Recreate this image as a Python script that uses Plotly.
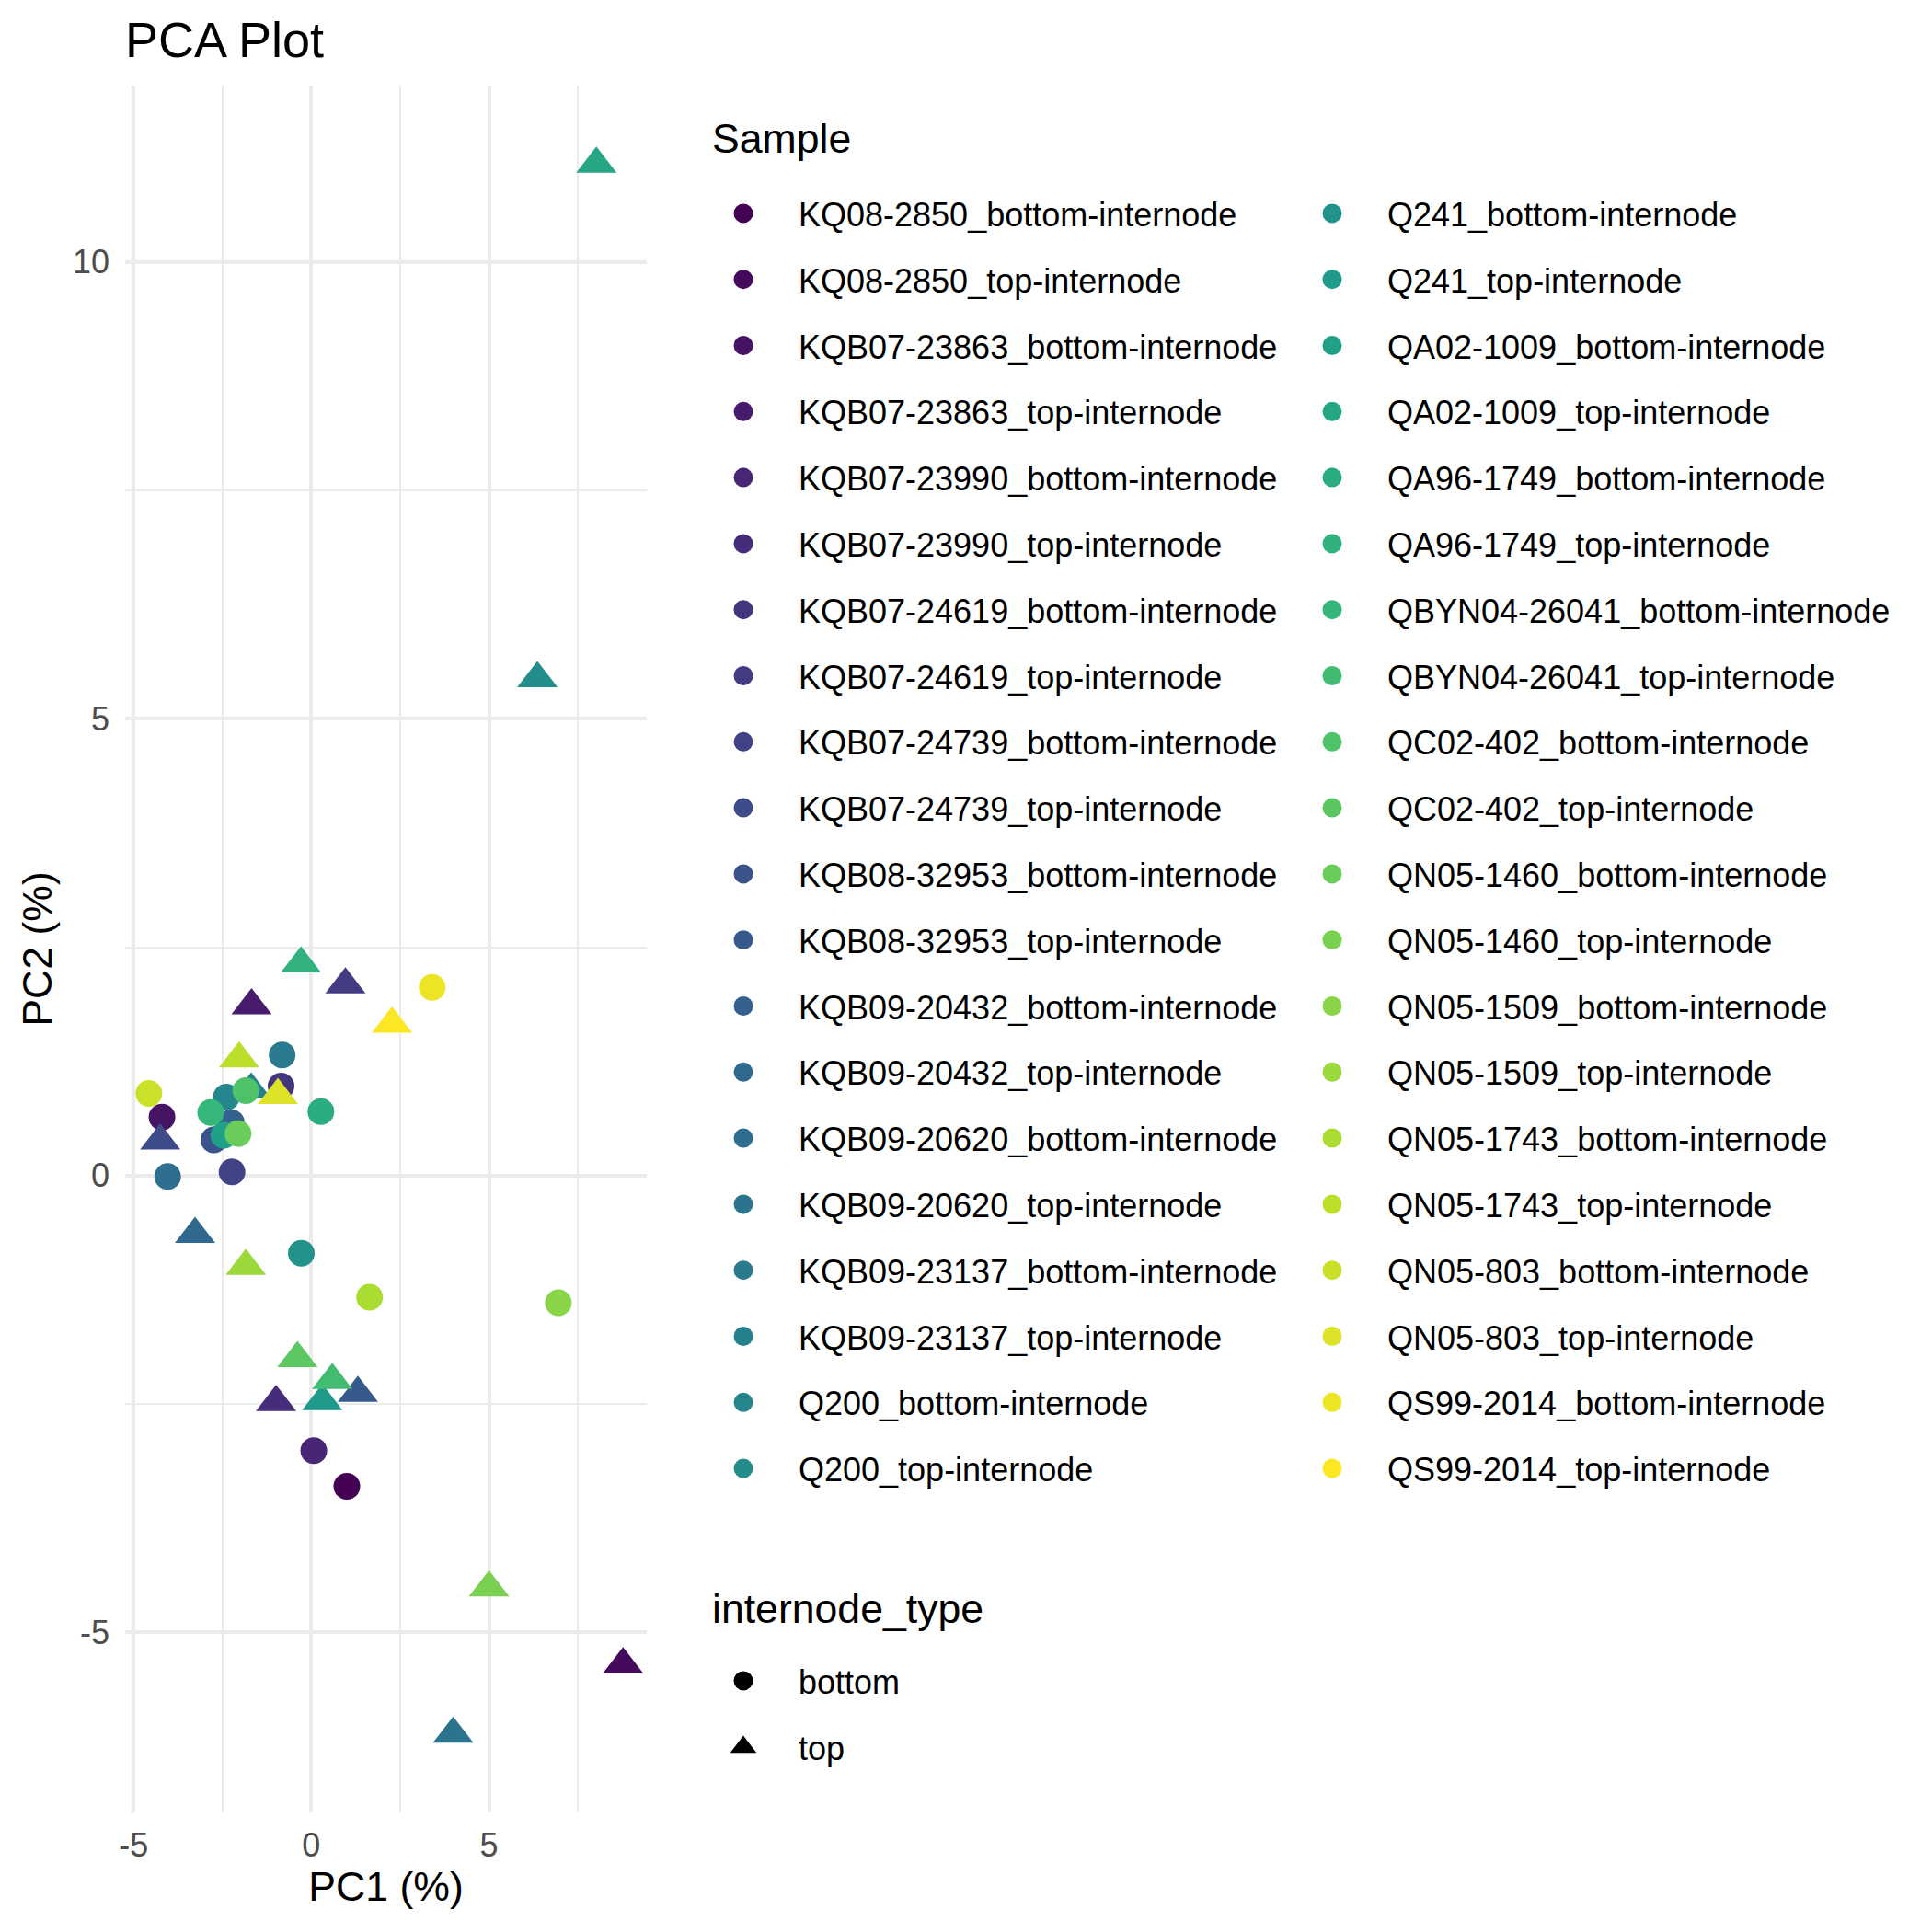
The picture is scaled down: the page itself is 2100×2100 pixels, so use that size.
import plotly.graph_objects as go
from plotly.colors import sample_colorscale

samples = [
    "KQ08-2850_bottom-internode", "KQ08-2850_top-internode",
    "KQB07-23863_bottom-internode", "KQB07-23863_top-internode",
    "KQB07-23990_bottom-internode", "KQB07-23990_top-internode",
    "KQB07-24619_bottom-internode", "KQB07-24619_top-internode",
    "KQB07-24739_bottom-internode", "KQB07-24739_top-internode",
    "KQB08-32953_bottom-internode", "KQB08-32953_top-internode",
    "KQB09-20432_bottom-internode", "KQB09-20432_top-internode",
    "KQB09-20620_bottom-internode", "KQB09-20620_top-internode",
    "KQB09-23137_bottom-internode", "KQB09-23137_top-internode",
    "Q200_bottom-internode", "Q200_top-internode",
    "Q241_bottom-internode", "Q241_top-internode",
    "QA02-1009_bottom-internode", "QA02-1009_top-internode",
    "QA96-1749_bottom-internode", "QA96-1749_top-internode",
    "QBYN04-26041_bottom-internode", "QBYN04-26041_top-internode",
    "QC02-402_bottom-internode", "QC02-402_top-internode",
    "QN05-1460_bottom-internode", "QN05-1460_top-internode",
    "QN05-1509_bottom-internode", "QN05-1509_top-internode",
    "QN05-1743_bottom-internode", "QN05-1743_top-internode",
    "QN05-803_bottom-internode", "QN05-803_top-internode",
    "QS99-2014_bottom-internode", "QS99-2014_top-internode",
]
internode_type = ["bottom", "top"] * 20

pc1 = [1.00, 8.77, -4.20, -1.68, 0.07, -0.99, -0.85, 0.96, -2.23, -4.25,
       -2.74, 1.31, -2.25, -3.27, -4.04, 3.99, -0.82, -1.69, -2.39, 6.36,
       -0.28, 0.31, -2.46, 8.02, 0.27, -0.29, -2.83, 0.59, -1.84, -0.39,
       -2.06, 5.00, 6.95, -1.84, 1.64, -2.03, -4.57, -0.94, 3.40, 2.27]
pc2 = [-3.40, -5.35, 0.64, 1.86, -3.01, -2.48, 0.98, 2.09, 0.04, 0.38,
       0.39, -2.38, 0.58, -0.64, -0.01, -6.11, 1.32, 0.94, 0.86, 5.44,
       -0.85, -2.47, 0.44, 11.07, 0.70, 2.32, 0.69, -2.24, 0.93, -2.00,
       0.46, -4.51, -1.39, -0.99, -1.33, 1.28, 0.90, 0.88, 2.06, 1.66]

x_tickvals = [-5, 0, 5]
x_ticktext = ["-5", "0", "5"]
x_minorvals = [-2.5, 2.5, 7.5]
y_tickvals = [-5, 0, 5, 10]
y_ticktext = ["-5", "0", "5", "10"]
y_minorvals = [-2.5, 2.5, 7.5]

type_levels = ["bottom", "top"]
type_symbols = {"bottom": "circle", "top": "triangle-up"}
type_sizes = {"bottom": 29, "top": 38}

n = len(samples)
colors = sample_colorscale("Viridis", [i / (n - 1) for i in range(n)])

FONT = "Liberation Sans, Arial, sans-serif"

fig = go.Figure()

# data points, drawn in sample order
for i in range(n):
    t = internode_type[i]
    fig.add_trace(go.Scatter(
        x=[pc1[i]], y=[pc2[i]], mode="markers", name=samples[i],
        marker=dict(symbol=type_symbols[t], size=type_sizes[t], color=colors[i],
                    line=dict(width=0)),
        showlegend=False,
    ))

# legend entries for Sample (two columns)
for i in range(n):
    fig.add_trace(go.Scatter(
        x=[None], y=[None], mode="markers", name=samples[i],
        marker=dict(symbol="circle", size=29, color=colors[i],
                    line=dict(width=5, color=colors[i])),
        legend="legend" if i < n // 2 else "legend2",
        legendgroup=f"s{i}", showlegend=True,
    ))

# legend entries for internode_type
for t in type_levels:
    fig.add_trace(go.Scatter(
        x=[None], y=[None], mode="markers", name=t,
        marker=dict(symbol=type_symbols[t], size=type_sizes[t], color="black",
                    line=dict(width=5, color="black")),
        legend="legend3", legendgroup=f"t{t}", showlegend=True,
    ))

# axis ranges with 5% expansion, like ggplot
def expand(vals, f=0.05):
    lo, hi = min(vals), max(vals)
    d = (hi - lo) * f
    return [lo - d, hi + d]

W = H = 2100
L, R, T, B = 136, 1397, 93, 130
pw = W - L - R
ph = H - T - B

def px_x(p):
    return (p - L) / pw

def px_y(p):
    return (H - B - p) / ph

legend_common = dict(
    xanchor="left", yanchor="top", font=dict(size=36, color="black", family=FONT),
    itemwidth=110, tracegroupgap=22, traceorder="grouped",
    bgcolor="rgba(0,0,0,0)", borderwidth=0,
)

fig.update_layout(
    width=W, height=H,
    margin=dict(l=L, r=R, t=T, b=B, autoexpand=False),
    paper_bgcolor="white", plot_bgcolor="white",
    font=dict(family=FONT, color="black"),
    title=dict(text="PCA Plot", x=0, xref="paper", xanchor="left",
               y=1 - 43 / H, yref="container", yanchor="middle",
               font=dict(size=54, color="black", family=FONT)),
    legend=dict(x=px_x(748), y=px_y(202), **legend_common),
    legend2=dict(x=px_x(1388), y=px_y(202), **legend_common),
    legend3=dict(x=px_x(748), y=px_y(1797), **legend_common),
    annotations=[
        dict(text="Sample", x=px_x(772), y=px_y(151), xref="paper", yref="paper",
             xanchor="left", yanchor="middle", showarrow=False,
             font=dict(size=44.6, color="black", family=FONT)),
        dict(text="internode_type", x=px_x(772), y=px_y(1748), xref="paper", yref="paper",
             xanchor="left", yanchor="middle", showarrow=False,
             font=dict(size=44.6, color="black", family=FONT)),
    ],
)

axis_common = dict(
    showgrid=True, gridcolor="#EBEBEB", gridwidth=4, zeroline=False,
    showline=False, ticks="", tickmode="array",
    tickfont=dict(size=36, color="#4D4D4D", family=FONT),
    automargin=False,
)

fig.update_xaxes(range=expand(pc1), tickvals=x_tickvals, ticktext=x_ticktext,
                 minor=dict(tickmode="array", tickvals=x_minorvals, showgrid=True,
                            gridcolor="#EBEBEB", gridwidth=2),
                 ticklabelstandoff=11,
                 title=dict(text="PC1 (%)", standoff=0,
                            font=dict(size=44.6, color="black", family=FONT)),
                 **axis_common)
fig.update_yaxes(range=expand(pc2), tickvals=y_tickvals, ticktext=y_ticktext,
                 minor=dict(tickmode="array", tickvals=y_minorvals, showgrid=True,
                            gridcolor="#EBEBEB", gridwidth=2),
                 ticklabelstandoff=16,
                 title=dict(text="PC2 (%)", standoff=8,
                            font=dict(size=44.6, color="black", family=FONT)),
                 **axis_common)

fig.write_html("out.html", config={"displayModeBar": False},
               post_script="document.body.style.margin='0';")
